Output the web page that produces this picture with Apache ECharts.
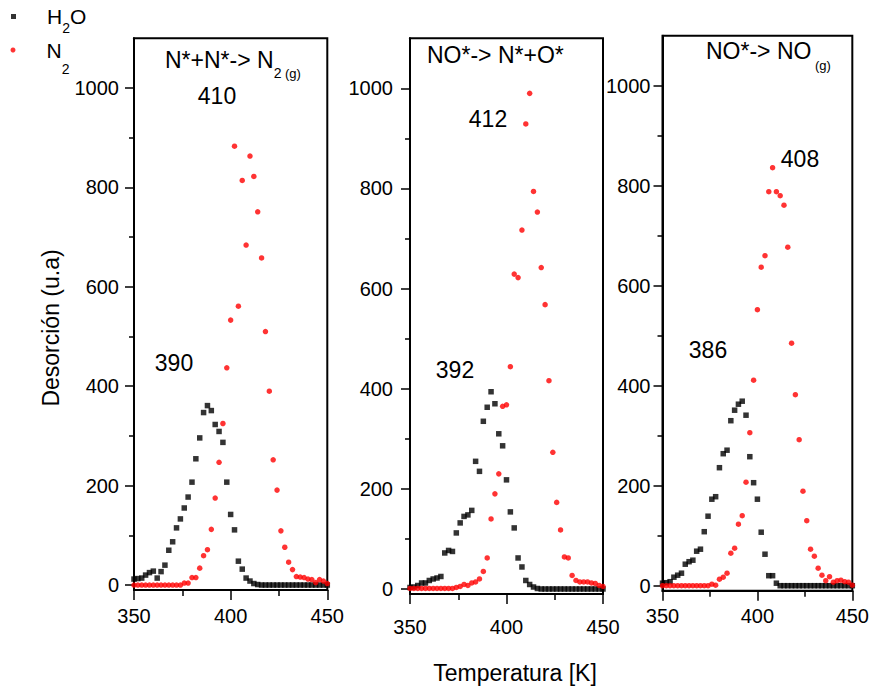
<!DOCTYPE html>
<html>
<head>
<meta charset="utf-8">
<script src="https://cdn.jsdelivr.net/npm/echarts@6/dist/echarts.min.js"></script>
<style>
html,body{margin:0;padding:0;background:#ffffff;}
#chart{width:872px;height:691px;}
</style>
</head>
<body>
<div id="chart"></div>
<script>
// ---------------- DATA ----------------
const temps = [350,352,354,356,358,360,362,364,366,368,370,372,374,376,378,380,382,384,386,388,
               390,392,394,396,398,400,402,404,406,408,410,412,414,416,418,420,422,424,426,428,
               430,432,434,436,438,440,442,444,446,448,450];

// Panel 1 : N*+N*-> N2(g)
const h2oA = [12,13,14,20,25,28,14,27,40,70,87,115,133,155,177,207,254,296,347,361,
              351,323,309,287,207,142,111,48,32,14,8,3,1,0,0,0,0,0,0,0,
              0,0,0,0,0,0,0,0,0,0,0];
const n2A  = [0,0,0,0,0,0,0,0,0,0,0,0,0,4,4,15,15,34,59,71,
              112,175,247,325,437,533,883,561,814,684,863,822,751,658,510,390,252,191,109,76,
              46,31,17,16,15,12,11,5,11,8,3];

// Panel 2 : NO*-> N*+O*
const h2oB = [3,4,7,12,12,17,20,22,25,72,77,75,112,132,145,148,157,255,235,335,
              363,394,370,310,286,218,154,122,62,44,17,9,4,1,0,0,0,0,0,0,
              0,0,0,0,0,0,0,0,0,0,0];
const n2B  = [1,1,1,1,1,1,1,1,1,1,1,1,3,5,9,7,12,14,20,35,
              62,140,190,230,365,368,444,629,622,717,929,990,794,753,642,568,416,273,173,118,
              64,62,27,17,14,14,14,12,11,7,5];

// Panel 3 : NO*-> NO(g)
const h2oC = [5,6,8,17,21,25,43,48,51,69,73,108,139,173,178,236,264,271,330,351,
              363,369,341,258,206,173,107,63,20,20,5,0,0,0,0,0,0,0,0,0,
              0,0,0,0,0,0,0,0,0,0,0];
const n2C  = [0,0,0,0,0,0,0,0,0,0,0,0,0,3,1,13,17,25,65,75,
              123,140,207,306,411,552,637,660,788,836,788,780,761,677,485,382,292,189,130,73,
              59,35,21,10,18,7,10,11,8,7,1];

const xTicks = [350, 400, 450];
const yTickLabels = [0, 200, 400, 600, 800, 1000];
const yMinorTicks = [100, 300, 500, 700, 900];
const seriesNames = ['H2O', 'N2'];
const peakLabelsA = ['410', '390'];
const peakLabelsB = ['412', '392'];
const peakLabelsC = ['408', '386'];
const xAxisTitle = 'Temperatura [K]';
const yAxisTitle = 'Desorción (u.a)';

// ---------------- LAYOUT ----------------
const FONT = 'Liberation Sans, Arial, Helvetica, sans-serif';
const panels = [
  {left:134,   top:38.3, width:193.3, height:551.7, yMargin:15, xMargin:16, h2o:h2oA, n2:n2A},
  {left:410,   top:38.3, width:193,   height:555.7, yMargin:17, xMargin:23, h2o:h2oB, n2:n2B},
  {left:662.5, top:35.7, width:192.5, height:555,   yMargin:12, xMargin:15, h2o:h2oC, n2:n2C}
];

const grids = [], xAxes = [], yAxes = [], series = [];
panels.forEach((p, i) => {
  grids.push({left:p.left, top:p.top, width:p.width, height:p.height, show:true,
              borderColor:'#000', borderWidth:2, backgroundColor:'transparent', containLabel:false});
  xAxes.push({
    gridIndex:i, type:'value', position:'bottom', min:xTicks[0], max:xTicks[xTicks.length-1], interval:50,
    axisLine:{show:true, onZero:false, lineStyle:{color:'#000', width:2}},
    axisTick:{show:true, length:10, lineStyle:{color:'#000', width:1.5}},
    minorTick:{show:true, splitNumber:2, length:6, lineStyle:{color:'#000', width:1.5}},
    splitLine:{show:false}, minorSplitLine:{show:false},
    axisLabel:{show:true, fontSize:20, color:'#000', fontFamily:FONT, margin:p.xMargin,
               showMinLabel:true, showMaxLabel:true, formatter:v => String(v)}
  });
  yAxes.push({
    gridIndex:i, type:'value', position:'left', min:-10, max:1100,
    axisLine:{show:true, onZero:false, lineStyle:{color:'#000', width:2}},
    axisTick:{show:true, length:9, customValues:yTickLabels, lineStyle:{color:'#000', width:1.5}},
    axisLabel:{show:true, customValues:yTickLabels, fontSize:20, color:'#000', fontFamily:FONT,
               margin:p.yMargin, formatter:v => String(v)},
    splitLine:{show:false}
  });
  yAxes.push({
    gridIndex:i, type:'value', position:'left', offset:0, min:-10, max:1100,
    axisLine:{show:false, onZero:false},
    axisTick:{show:true, length:5, customValues:yMinorTicks, lineStyle:{color:'#000', width:1.5}},
    axisLabel:{show:false}, splitLine:{show:false}
  });
  series.push({
    type:'scatter', name:seriesNames[0], xAxisIndex:i, yAxisIndex:2*i,
    data: temps.map((t, k) => [t, p.h2o[k]]),
    symbol:'rect', symbolSize:5.5, itemStyle:{color:'#000000'}, silent:true
  });
  series.push({
    type:'scatter', name:seriesNames[1], xAxisIndex:i, yAxisIndex:2*i,
    data: temps.map((t, k) => [t, p.n2[k]]),
    symbol:'circle', symbolSize:5.5, itemStyle:{color:'#ff0000'}, silent:true
  });
});

function subRich(P, mainSize, subSize) {
  return {
    a:{fontSize:mainSize, lineHeight:mainSize, verticalAlign:'middle', fontFamily:FONT, color:'#000'},
    b:{fontSize:subSize, lineHeight:14, verticalAlign:'middle', padding:[P,0,0,0], fontFamily:FONT, color:'#000'},
    c:{fontSize:subSize-1, lineHeight:14, verticalAlign:'middle', padding:[P,0,0,0], fontFamily:FONT, color:'#000'},
    sp:{width:26}
  };
}

const legends = [
  {data:[{name:seriesNames[0], icon:'rect'}], left:11, top:-2, padding:0,
   itemWidth:5, itemHeight:5, selectedMode:false,
   formatter:() => '{sp|}{a|H}{b|2}{a|O}',
   textStyle:{rich:subRich(23, 21, 14)}},
  {data:[{name:seriesNames[1], icon:'circle'}], left:10.5, top:24.5, padding:0,
   itemWidth:5, itemHeight:5, selectedMode:false,
   formatter:() => '{sp|}{a|N}{b|2}',
   textStyle:{rich:subRich(37, 21, 14)}}
];

function txt(x, y, text, size, extra) {
  return Object.assign({type:'text', x:x, y:y, silent:true,
    style:{text:text, fontSize:size, fontFamily:FONT, fill:'#000', align:'center', verticalAlign:'middle'}}, extra || {});
}

const graphics = [
  // panel titles
  {type:'text', x:165, y:60, silent:true, style:{text:'{a|N*+N*-> N}{b|2}{c| (g)}', rich:subRich(26, 23, 14),
    align:'left', verticalAlign:'middle'}},
  {type:'text', x:427, y:55, silent:true, style:{text:'NO*-> N*+O*', fontSize:23, fontFamily:FONT, fill:'#000',
    align:'left', verticalAlign:'middle'}},
  {type:'text', x:706, y:50.5, silent:true, style:{text:'{a|NO*-> NO}{c| (g)}', rich:subRich(30, 23, 14),
    align:'left', verticalAlign:'middle'}},
  // peak annotations
  txt(217, 96, peakLabelsA[0], 23), txt(174, 363, peakLabelsA[1], 23),
  txt(488, 119, peakLabelsB[0], 23), txt(455, 370, peakLabelsB[1], 23),
  txt(800, 159, peakLabelsC[0], 23), txt(708, 350, peakLabelsC[1], 23),
  // axis titles
  txt(515, 673, xAxisTitle, 23),
  txt(51, 328, yAxisTitle, 23, {rotation: Math.PI / 2})
];

const chart = echarts.init(document.getElementById('chart'), null, {renderer:'svg', width:872, height:691});
chart.setOption({
  animation:false,
  backgroundColor:'#ffffff',
  textStyle:{fontFamily:FONT},
  legend:legends,
  grid:grids,
  xAxis:xAxes,
  yAxis:yAxes,
  series:series,
  graphic:graphics
});
</script>
</body>
</html>
